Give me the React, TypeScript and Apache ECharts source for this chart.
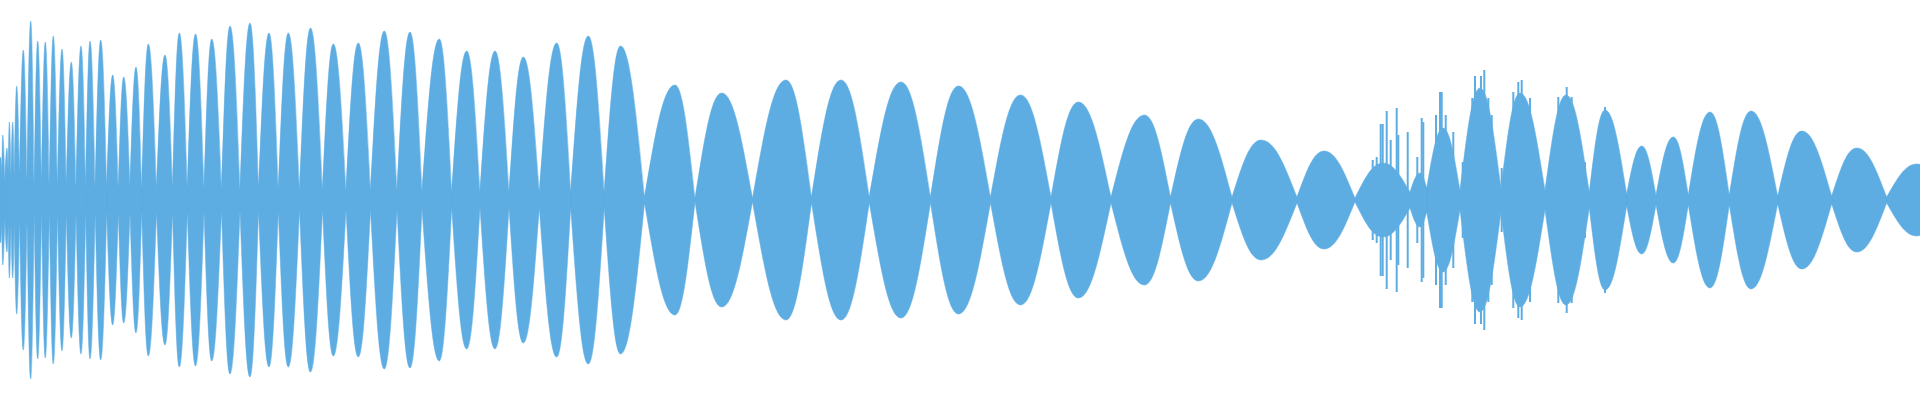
import { useEffect, useRef } from 'react';
import * as echarts from 'echarts';

const WAVE_COLOR = '#5dade2';

// Envelope: lobes between "crossing" frames (where the envelope pinches)
const crossFrames = [
  -1, 1.8, 4.8, 8.2, 11, 14.2, 19.5, 27, 34.2, 41.5, 49.3, 57.5, 66.3, 76, 85.7, 95.2,
  106.7, 118.3, 130, 141.7, 156.5, 172.5, 187.3, 204, 221.5, 240, 258.5, 278.3, 299.5,
  322.5, 346, 370.5, 397, 422, 451.7, 480, 509, 539.3, 570.7, 604.2, 644.5, 695, 752.5,
  811.5, 869.3, 930.5, 990.5, 1051, 1111, 1170.5, 1232, 1297, 1355, 1410, 1426.7, 1460,
  1501, 1545, 1589.3, 1626.7, 1656, 1688.3, 1729.3, 1777.7, 1831.7, 1886.7, 1946,
];
const neckLevels = [
  30, 25, 20, 25, 25, 25, 20, 20, 14, 13, 13, 13, 13, 13, 13, 13,
  13, 13, 13, 12, 12, 12, 12, 12, 11, 11, 11, 11, 10,
  10, 10, 10, 10, 9, 8, 8, 8, 8, 8, 8, 3, 2, 2,
  3, 3, 3, 3, 3, 3, 3, 3, 3, 2, 8, 12, 10,
  12, 10, 8, 6, 5, 5, 5, 4, 4, 3, 3,
];
// Peak of each lobe (frame, level)
const peakFrames = [
  0.7, 2.7, 7, 9.3, 12.7, 16.7, 23.3, 30.7, 37.7, 45.3, 53.3, 62, 71.3, 81, 90,
  100.7, 112.7, 123.7, 136, 148.3, 165, 179.3, 195.5, 211.7, 230, 250, 269, 288.3,
  310.5, 333.3, 358.3, 384.3, 410, 439.3, 466.7, 495, 523.3, 556.7, 588.3, 620.5, 675,
  721.7, 786, 841, 901, 958.5, 1020.5, 1078.3, 1144.5, 1198.3, 1261, 1324, 1383, 1420,
  1443, 1480, 1520, 1566, 1605, 1641.7, 1673.3, 1710, 1751, 1801.7, 1856.7, 1916.7,
];
const peakLevels = [
  43, 65, 52, 78, 78, 114, 150, 179, 159, 158, 164, 151, 138, 154, 159,
  160, 125, 123, 133, 156, 145, 167, 166, 161, 174, 177, 167, 167,
  172, 156, 157, 169, 168, 161, 149, 149, 143, 157, 164, 154, 115,
  107, 120, 120, 118, 114, 105, 98, 85, 81, 60, 49, 37, 27,
  72, 112, 107, 105, 90, 54, 63, 88, 89, 69, 52, 36,
];

// Isolated transient spikes in the noisy section
const spikeFrames = [
  1372.7, 1376.7, 1380.7, 1382.7, 1386.7, 1390.7, 1396.7, 1398.3, 1407.7, 1417.3, 1421.7,
  1423.3, 1436, 1440, 1441.7, 1445.7, 1453.3, 1462.7, 1472.3, 1475, 1481, 1484.3, 1488.3,
  1491.7, 1501.7, 1513.3, 1518.3, 1521.7, 1530, 1558.3, 1566.7, 1571.7, 1585, 1605,
];
const spikeLevels = [
  40, 43, 76, 76, 89, 60, 92, 65, 68, 43, 82,
  78, 85, 108, 108, 85, 68, 38, 102, 124, 124, 130, 102,
  85, 32, 108, 118, 120, 102, 103, 113, 103, 38, 93,
];

type Pt = number[];

// sine-like lobe edge: from a neck point up to a peak
function rise(ctx: any, a: Pt, b: Pt) {
  const dx = b[0] - a[0];
  const dy = b[1] - a[1];
  ctx.bezierCurveTo(a[0] + 0.333 * dx, a[1] + 0.524 * dy, a[0] + 0.6 * dx, b[1], b[0], b[1]);
}
// from a peak down to a neck point
function fall(ctx: any, a: Pt, b: Pt) {
  const dx = b[0] - a[0];
  const dy = a[1] - b[1];
  ctx.bezierCurveTo(a[0] + 0.4 * dx, a[1], a[0] + 0.667 * dx, b[1] + 0.524 * dy, b[0], b[1]);
}

const WaveLobes = echarts.graphic.extendShape({
  shape: { lobes: [] as Pt[][] },
  buildPath(ctx: any, shape: any) {
    for (const [s, p, e, el, pl, sl] of shape.lobes as Pt[][]) {
      ctx.moveTo(s[0], s[1]);
      rise(ctx, s, p);
      fall(ctx, p, e);
      ctx.lineTo(el[0], el[1]);
      rise(ctx, el, pl);
      fall(ctx, pl, sl);
      ctx.closePath();
    }
  },
});
echarts.graphic.registerShape('waveLobes', WaveLobes);

export default function App() {
  const ref = useRef<HTMLDivElement>(null);

  useEffect(() => {
    if (!ref.current) return;
    const chart = echarts.init(ref.current, null, { renderer: 'svg' });
    const spikesUp = spikeFrames.map((f, i) => [f, spikeLevels[i]]);
    const spikesDown = spikeFrames.map((f, i) => [f, -spikeLevels[i]]);

    const barSeries = (data: number[][]) => ({
      type: 'bar',
      stack: 'spikes',
      data,
      barWidth: 2,
      itemStyle: { color: WAVE_COLOR },
      silent: true,
    });

    chart.setOption({
      animation: false,
      grid: { left: 0, right: 0, top: 0, bottom: 0 },
      xAxis: { type: 'value', min: 0, max: 1920, show: false },
      yAxis: { type: 'value', min: -200, max: 200, show: false },
      series: [
        {
          type: 'custom',
          silent: true,
          clip: false,
          data: [[0, 0]],
          renderItem: (_params: any, api: any) => {
            const lobes: Pt[][] = [];
            for (let i = 0; i < peakFrames.length; i++) {
              const c0 = crossFrames[i];
              const c1 = crossFrames[i + 1];
              lobes.push([
                api.coord([c0, neckLevels[i]]),
                api.coord([peakFrames[i], peakLevels[i]]),
                api.coord([c1, neckLevels[i + 1]]),
                api.coord([c1, -neckLevels[i + 1]]),
                api.coord([peakFrames[i], -peakLevels[i]]),
                api.coord([c0, -neckLevels[i]]),
              ]);
            }
            return {
              type: 'waveLobes',
              shape: { lobes },
              style: { fill: WAVE_COLOR, stroke: WAVE_COLOR, lineWidth: 0.5 },
            };
          },
        },
        barSeries(spikesUp),
        barSeries(spikesDown),
      ],
    });
    return () => chart.dispose();
  }, []);

  return (
    <div
      ref={ref}
      style={{ position: 'fixed', left: 0, top: 0, width: '1920px', height: '400px', background: '#fff' }}
    />
  );
}
